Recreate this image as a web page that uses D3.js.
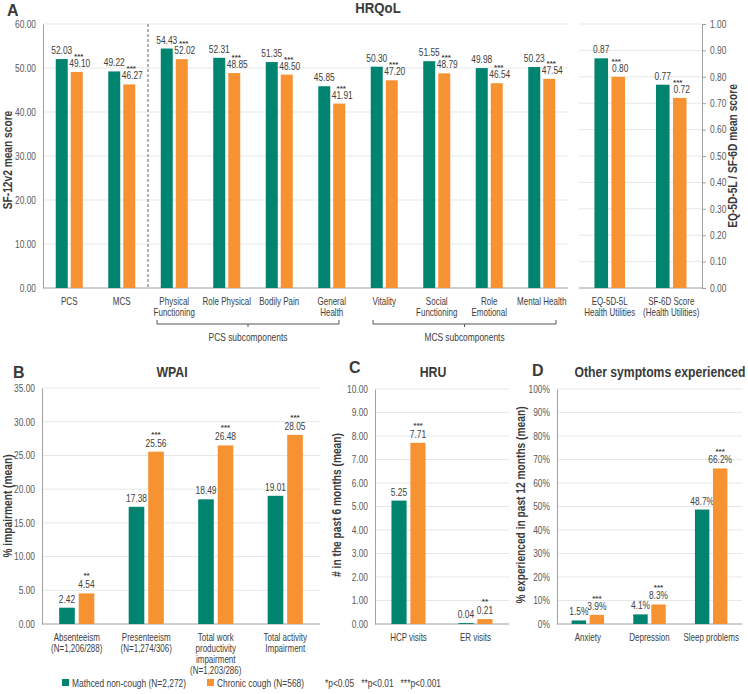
<!DOCTYPE html>
<html><head><meta charset="utf-8">
<script src="https://cdn.jsdelivr.net/npm/d3@7"></script>
<style>
body{margin:0;background:#fff}
text{font-family:"Liberation Sans",Arial,sans-serif}
</style>
</head><body><svg id="c" width="748" height="694"></svg>
<script>
// ---------- DATA ----------
const hrqolCats = ["PCS","MCS","Physical\nFunctioning","Role Physical","Bodily Pain","General\nHealth","Vitality","Social\nFunctioning","Role\nEmotional","Mental Health"];
const hrqolMatched = [52.03,49.22,54.43,52.31,51.35,45.85,50.30,51.55,49.98,50.23];
const hrqolChronic = [49.10,46.27,52.02,48.85,48.50,41.91,47.20,48.79,46.54,47.54];
const hrqolSig = ["***","***","***","***","***","***","***","***","***","***"];
const sfTicks = [0,10,20,30,40,50,60];

const utilCats = ["EQ-5D-5L\nHealth Utilities","SF-6D Score\n(Health Utilities)"];
const utilMatched = [0.87,0.77];
const utilChronic = [0.80,0.72];
const utilSig = ["***","***"];
const utilTicks = [0,0.1,0.2,0.3,0.4,0.5,0.6,0.7,0.8,0.9,1.0];

const wpaiCats = ["Absenteeism\n(N=1,206/288)","Presenteeism\n(N=1,274/306)","Total work\nproductivity\nimpairment\n(N=1,203/286)","Total activity\nImpairment"];
const wpaiMatched = [2.42,17.38,18.49,19.01];
const wpaiChronic = [4.54,25.56,26.48,28.05];
const wpaiSig = ["**","***","***","***"];
const wpaiTicks = [0,5,10,15,20,25,30,35];

const hruCats = ["HCP visits","ER visits"];
const hruMatched = [5.25,0.04];
const hruChronic = [7.71,0.21];
const hruSig = ["***","**"];
const hruTicks = [0,1,2,3,4,5,6,7,8,9,10];

const sympCats = ["Anxiety","Depression","Sleep problems"];
const sympMatched = [1.5,4.1,48.7];
const sympChronic = [3.9,8.3,66.2];
const sympSig = ["***","***","***"];
const sympTicks = [0,10,20,30,40,50,60,70,80,90,100];

const seriesNames = ["Mathced non-cough (N=2,272)","Chronic cough (N=568)"];
const sigNote = "*p<0.05   **p<0.01   ***p<0.001";
const subGroups = [{label:"PCS subcomponents",from:2,to:5},{label:"MCS subcomponents",from:6,to:9}];

// ---------- STYLE ----------
const TEAL="#00846f", ORANGE="#f79232", GRID="#e5e8e8", AXIS="#a0a0a0", TXT="#404040", TICK="#595959", DARK="#3a3a3a";
const SX = 0.8;
const svg = d3.select("#c");

function label(parent,x,y,str,o){
  o=o||{};
  const t=parent.append("text")
    .attr("transform",`translate(${x},${y})${o.rot?` rotate(${o.rot})`:""} scale(${o.sx||SX},1)`)
    .attr("text-anchor",o.anchor||"middle").attr("fill",o.fill||TXT)
    .style("font-size",(o.size||10)+"px");
  if(o.weight) t.style("font-weight",o.weight);
  if(o.pre) t.style("white-space","pre");
  String(str).split("\n").forEach((ln,j)=>t.append("tspan").attr("x",0).attr("y",j*(o.lh||11)).text(ln));
  return t;
}

function panel(o){
  const g = svg.append("g");
  const y = d3.scaleLinear().domain(o.yDomain).range([o.yBottom,o.yTop]);
  const x0 = d3.scaleBand().domain(o.cats).range([o.xl,o.xr]);
  const x1 = d3.scaleBand().domain(["m","c"]).range([0,x0.bandwidth()]).paddingInner(0.2).paddingOuter(o.pad);
  g.selectAll(".grid").data(o.ticks.filter(t=>t>0)).join("line")
    .attr("x1",o.xl).attr("x2",o.xr).attr("y1",d=>y(d)).attr("y2",d=>y(d))
    .attr("stroke",GRID).attr("stroke-width",1);
  if(o.axis){
    const right = o.axis==="right";
    const ax = (right? d3.axisRight(y):d3.axisLeft(y))
      .tickValues(o.ticks).tickFormat(o.fmt).tickSizeOuter(0)
      .tickSize(right?4:0).tickPadding(right?4:7);
    const ag = g.append("g").attr("transform",`translate(${right?o.xr:o.xl},0)`).call(ax);
    ag.select(".domain").attr("stroke",AXIS);
    ag.selectAll(".tick line").attr("stroke",AXIS);
    ag.selectAll(".tick text").attr("fill",TICK).style("font-size","10.5px")
      .style("font-family",'"Liberation Sans",Arial,sans-serif')
      .each(function(){const t=d3.select(this);t.attr("x",(+t.attr("x"))/SX).attr("transform",`scale(${SX},1)`);});
  }
  g.append("line").attr("x1",o.xl).attr("x2",o.xr).attr("y1",y(0)).attr("y2",y(0)).attr("stroke",AXIS).attr("stroke-width",1.2);
  o.cats.forEach((c,i)=>{
    [["m",o.a[i],TEAL],["c",o.b[i],ORANGE]].forEach(([k,v,col])=>{
      const bx = x0(c)+x1(k), bw = x1.bandwidth(), cx = bx+bw/2;
      g.append("rect").attr("x",bx).attr("y",y(v)).attr("width",bw).attr("height",y(0)-y(v)).attr("fill",col);
      const lx = k==="c"? cx+(o.orangeShift||0) : cx;
      label(g,lx,y(v)-5,o.vfmt(v),{size:10.5});
      if(k==="c") label(g,cx+(o.sigShift||0),y(v)-5-o.sigGap,o.sig[i],{size:8,weight:"bold",sx:1});
    });
    label(g,x0(c)+x0.bandwidth()/2,y(0)+17,c,{size:10});
  });
  return {g,x0,y};
}

// Panel A left
const A = panel({cats:hrqolCats,a:hrqolMatched,b:hrqolChronic,sig:hrqolSig,yDomain:[0,60],yTop:24,yBottom:288,
  xl:43,xr:568,pad:0.85,ticks:sfTicks,fmt:d3.format(".2f"),vfmt:d3.format(".2f"),axis:"left",orangeShift:3,sigShift:2,sigGap:8});
// Panel A right
panel({cats:utilCats,a:utilMatched,b:utilChronic,sig:utilSig,yDomain:[0,1],yTop:24,yBottom:288,
  xl:579,xr:702,pad:0.91,ticks:utilTicks,fmt:d3.format(".2f"),vfmt:d3.format(".2f"),axis:"right",orangeShift:2,sigShift:-2,sigGap:8});
A.g.append("line").attr("x1",A.x0(hrqolCats[2])).attr("x2",A.x0(hrqolCats[2])).attr("y1",A.y(60)).attr("y2",A.y(0))
  .attr("stroke","#666").attr("stroke-dasharray","3,2");
const brOff=[[9,-19],[15,-12]];
subGroups.forEach((s,i)=>{
  const xa=A.x0(hrqolCats[s.from])+brOff[i][0], xb=A.x0(hrqolCats[s.to])+A.x0.bandwidth()+brOff[i][1], xm=(xa+xb)/2;
  A.g.append("path").attr("d",`M${xa},320V324H${xb}V320M${xm},324V327`).attr("fill","none").attr("stroke","#555");
  label(A.g,xm,341,s.label,{size:10.5});
});
// Panel B
panel({cats:wpaiCats,a:wpaiMatched,b:wpaiChronic,sig:wpaiSig,yDomain:[0,35],yTop:388,yBottom:624,
  xl:42,xr:320,pad:0.88,ticks:wpaiTicks,fmt:d3.format(".2f"),vfmt:d3.format(".2f"),axis:"left",sigGap:10});
// Panel C
panel({cats:hruCats,a:hruMatched,b:hruChronic,sig:hruSig,yDomain:[0,10],yTop:389,yBottom:624,
  xl:375,xr:509,pad:0.87,ticks:hruTicks,fmt:d3.format(".2f"),vfmt:d3.format(".2f"),axis:"left",sigGap:10});
// Panel D
panel({cats:sympCats,a:sympMatched,b:sympChronic,sig:sympSig,yDomain:[0,100],yTop:389,yBottom:624,
  xl:557,xr:742,pad:0.81,ticks:sympTicks,fmt:d=>d+"%",vfmt:d=>d.toFixed(1)+"%",axis:"left",sigGap:9});

// titles
const TS={size:14,weight:"bold",fill:DARK,sx:0.88};
label(svg,7,16,"A",{size:16,weight:"bold",fill:DARK,sx:1,anchor:"start"});
label(svg,378,13,"HRQoL",Object.assign({},TS,{size:15}));
label(svg,13,378,"B",{size:16,weight:"bold",fill:DARK,sx:1,anchor:"start"});
label(svg,172,377,"WPAI",TS);
label(svg,349,373,"C",{size:16,weight:"bold",fill:DARK,sx:1,anchor:"start"});
label(svg,433,377,"HRU",TS);
label(svg,532,376,"D",{size:16,weight:"bold",fill:DARK,sx:1,anchor:"start"});
label(svg,660,377,"Other symptoms experienced",Object.assign({},TS,{sx:0.87}));

// axis titles
const AT={size:12,weight:"bold",fill:DARK,sx:0.85,rot:-90};
label(svg,12,160,"SF-12v2 mean score",AT);
label(svg,737,156,"EQ-5D-5L / SF-6D mean score",AT);
label(svg,12,506,"% impairment (mean)",AT);
label(svg,341,505,"# in the past 6 months (mean)",AT);
label(svg,525,505,"% experienced in past 12 months (mean)",AT);

// legend
const lg = svg.append("g");
[[62,TEAL,72,seriesNames[0]],[207,ORANGE,217,seriesNames[1]]].forEach(([rx,col,tx,s])=>{
  lg.append("rect").attr("x",rx).attr("y",679).attr("width",7).attr("height",7).attr("fill",col);
  label(lg,tx,687,s,{size:10.5,anchor:"start"});
});
label(lg,325,687,sigNote,{size:10.5,anchor:"start",pre:true});
</script></body></html>
